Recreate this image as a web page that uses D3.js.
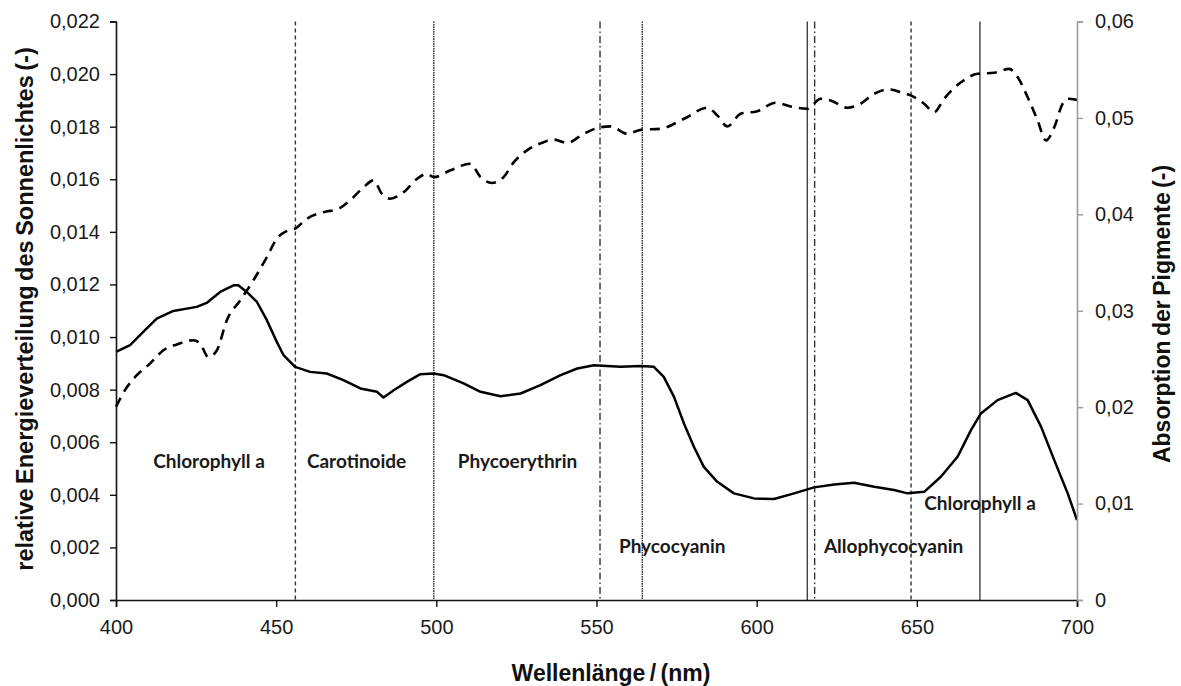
<!DOCTYPE html>
<html>
<head>
<meta charset="utf-8">
<script src="https://cdn.jsdelivr.net/npm/d3@7"></script>
<style>
  body { margin: 0; background: #fff; }
  svg { display: block; }
</style>
</head>
<body>
<svg id="chart" width="1181" height="686"></svg>
<script>
// Relative spectral energy of sunlight (left axis), wavelength in nm
const sunWl = [400, 402.8, 406.5, 410.6, 414.8, 419.0, 424.2, 426.3, 428.8, 431.5, 434.6, 438.8, 442.9, 447.1, 450.2, 453.3, 455.9, 459.6, 464.8, 469.5, 473.1, 477.3, 480.4, 483.0, 485.6, 489.8, 494.0, 497.1, 499.2, 504.4, 510.6, 513.8, 517.4, 521.0, 524.2, 528.3, 533.5, 536.7, 540.8, 546.0, 551.3, 554.4, 559.6, 563.8, 570.0, 577.3, 584.6, 587.7, 590.8, 595.0, 600.2, 605.9, 610.6, 615.8, 620.0, 623.1, 628.3, 631.5, 636.7, 641.3, 645.0, 648.1, 652.3, 655.4, 658.5, 663.8, 669.0, 674.2, 678.8, 681.5, 684.6, 687.7, 690.3, 692.9, 695.5, 697.1, 700];
const sunVal = [0.00735, 0.00798, 0.00855, 0.00899, 0.00950, 0.00972, 0.00988, 0.00975, 0.00924, 0.00950, 0.01064, 0.01140, 0.01216, 0.01304, 0.01374, 0.01403, 0.01412, 0.01450, 0.01475, 0.01488, 0.01520, 0.01570, 0.01596, 0.01545, 0.01526, 0.01551, 0.01602, 0.01621, 0.01608, 0.01634, 0.01659, 0.01608, 0.01586, 0.01608, 0.01665, 0.01710, 0.01741, 0.01751, 0.01738, 0.01773, 0.01798, 0.01801, 0.01773, 0.01788, 0.01792, 0.01830, 0.01872, 0.01843, 0.01801, 0.01849, 0.01859, 0.01891, 0.01877, 0.01868, 0.01906, 0.01900, 0.01872, 0.01881, 0.01925, 0.01942, 0.01931, 0.01919, 0.01887, 0.01855, 0.01906, 0.01969, 0.02001, 0.02005, 0.02020, 0.01988, 0.01912, 0.01824, 0.01748, 0.01798, 0.01887, 0.01906, 0.01902];

// Pigment absorption (right axis)
const absWl = [400, 404.4, 408.5, 412.7, 417.9, 425.2, 428.3, 432.5, 436.7, 438.2, 440.8, 444.0, 447.1, 450.2, 452.3, 455.9, 460.6, 465.8, 471.0, 476.3, 481.5, 483.5, 486.7, 490.8, 495.0, 499.2, 502.3, 508.5, 513.8, 520.0, 526.3, 532.5, 538.8, 544.0, 549.2, 557.5, 563.8, 567.9, 571.0, 574.2, 577.3, 580.4, 583.5, 587.7, 592.9, 599.2, 605.4, 611.7, 617.9, 624.2, 630.4, 636.7, 642.9, 647.1, 652.3, 657.5, 662.7, 666.9, 670.0, 675.2, 680.9, 684.6, 688.8, 692.9, 697.1, 700];
const absVal = [0.02573, 0.02643, 0.02780, 0.02919, 0.02998, 0.03040, 0.03081, 0.03195, 0.03264, 0.03264, 0.03195, 0.03091, 0.02902, 0.02677, 0.02539, 0.02418, 0.02366, 0.02349, 0.02280, 0.02194, 0.02159, 0.02100, 0.02176, 0.02262, 0.02342, 0.02349, 0.02332, 0.02246, 0.02159, 0.02114, 0.02142, 0.02228, 0.02332, 0.02401, 0.02435, 0.02418, 0.02428, 0.02418, 0.02314, 0.02107, 0.01831, 0.01589, 0.01381, 0.01226, 0.01106, 0.01054, 0.01047, 0.01106, 0.01168, 0.01199, 0.01216, 0.01174, 0.01140, 0.01106, 0.01122, 0.01278, 0.01485, 0.01762, 0.01935, 0.02073, 0.02148, 0.02073, 0.01796, 0.01451, 0.01106, 0.00829];

// Band boundaries (nm) and pigment names
const boundaryWl = [456.0, 499.2, 551.1, 564.3, 615.8, 618.1, 648.2, 669.7];
const pigmentNames = ["Chlorophyll a", "Carotinoide", "Phycoerythrin", "Phycocyanin", "Allophycocyanin", "Chlorophyll a"];

// Axis ticks
const xTicks = [400, 450, 500, 550, 600, 650, 700];
const leftTicks = [0, 0.002, 0.004, 0.006, 0.008, 0.010, 0.012, 0.014, 0.016, 0.018, 0.020, 0.022];
const rightTicks = [0, 0.01, 0.02, 0.03, 0.04, 0.05, 0.06];

const svg = d3.select("#chart");
const plotLeft = 116, plotRight = 1077, plotTop = 21.5, plotBottom = 600;

const x = d3.scaleLinear().domain([400, 700]).range([plotLeft, plotRight]);
const yL = d3.scaleLinear().domain([0, 0.022]).range([plotBottom, plotTop]);
const yR = d3.scaleLinear().domain([0, 0.06]).range([plotBottom, plotTop]);

const axisFont = "'Liberation Sans', Arial, sans-serif";
const comma = s => s.replace(".", ",");

// Vertical band boundaries
const boundaryDash = ["4,3", "1.6,0.8", "7,3,1.5,3", "1.6,0.8", null, "7,3,1.5,3", "4,3", null];
svg.append("g").selectAll("line")
  .data(boundaryWl)
  .join("line")
  .attr("x1", d => x(d)).attr("x2", d => x(d))
  .attr("y1", yL(0.022)).attr("y2", yL(0))
  .attr("stroke", "#333")
  .attr("stroke-width", (d, i) => boundaryDash[i] ? 1.4 : 1.3)
  .attr("stroke-dasharray", (d, i) => boundaryDash[i]);

// Sunlight curve (dashed)
const sunData = sunWl.map((w, i) => [w, sunVal[i]]);
svg.append("path")
  .datum(sunData)
  .attr("fill", "none")
  .attr("stroke", "#000")
  .attr("stroke-width", 2.6)
  .attr("stroke-dasharray", "10,7")
  .attr("d", d3.line().x(d => x(d[0])).y(d => yL(d[1])).curve(d3.curveMonotoneX));

// Absorption curve (solid)
const absData = absWl.map((w, i) => [w, absVal[i]]);
svg.append("path")
  .datum(absData)
  .attr("fill", "none")
  .attr("stroke", "#000")
  .attr("stroke-width", 2.5)
  .attr("stroke-linejoin", "round")
  .attr("d", d3.line().x(d => x(d[0])).y(d => yR(d[1])));

// Axes
const xAxis = svg.append("g")
  .attr("transform", `translate(0,${plotBottom})`)
  .call(d3.axisBottom(x).tickValues(xTicks).tickSize(7).tickPadding(13).tickFormat(d3.format("d")));
const leftAxis = svg.append("g")
  .attr("transform", `translate(${plotLeft},0)`)
  .call(d3.axisLeft(yL).tickValues(leftTicks).tickSize(6).tickPadding(10).tickFormat(d => comma(d3.format(".3f")(d))));
const rightAxis = svg.append("g")
  .attr("transform", `translate(${plotRight},0)`)
  .call(d3.axisRight(yR).tickValues(rightTicks).tickSize(6).tickPadding(12).tickFormat(d => d === 0 ? "0" : comma(d3.format(".2f")(d))));

[xAxis, leftAxis, rightAxis].forEach(g => {
  g.selectAll("text").attr("font-family", axisFont).attr("font-size", 20).attr("fill", "#1a1a1a");
});
xAxis.select(".domain").attr("stroke", "#111").attr("stroke-width", 1.6);
xAxis.selectAll(".tick line").attr("stroke", "#111").attr("stroke-width", 1.4);
leftAxis.select(".domain").attr("stroke", "#111").attr("stroke-width", 1.6);
leftAxis.selectAll(".tick line").attr("stroke", "#111").attr("stroke-width", 1.4);
rightAxis.select(".domain").attr("stroke", "#9a9a9a").attr("stroke-width", 1.6);
rightAxis.selectAll(".tick line").attr("stroke", "#9a9a9a").attr("stroke-width", 1.4);
xAxis.selectAll("text").attr("dy", "0.71em");

// Axis titles
const titleStyle = (sel, size) => sel
  .attr("font-family", axisFont).attr("font-weight", "bold").attr("font-size", size)
  .attr("word-spacing", "-2").attr("fill", "#111");
svg.append("text")
  .attr("transform", `translate(33,309) rotate(-90)`)
  .attr("text-anchor", "middle")
  .call(titleStyle, 23.5)
  .text("relative Energieverteilung des Sonnenlichtes (-)");
svg.append("text")
  .attr("transform", `translate(1170,314) rotate(-90)`)
  .attr("text-anchor", "middle")
  .call(titleStyle, 23)
  .text("Absorption der Pigmente (-)");
svg.append("text")
  .attr("x", 611).attr("y", 681)
  .attr("text-anchor", "middle")
  .call(titleStyle, 23)
  .text("Wellenlänge / (nm)");

// Pigment band labels, placed in data coordinates (nm, left-axis value)
const labelAt = [[411.6, 0.00502], [459.6, 0.00502], [506.7, 0.00502], [557.0, 0.00179], [621.0, 0.00179], [652.3, 0.00342]];
svg.append("g").selectAll("text")
  .data(pigmentNames)
  .join("text")
  .attr("x", (d, i) => x(labelAt[i][0]))
  .attr("y", (d, i) => yL(labelAt[i][1]))
  .attr("font-family", "Lato, 'Open Sans', sans-serif")
  .attr("font-weight", "bold")
  .attr("font-size", 19)
  .attr("fill", "#1a1a1a")
  .text(d => d);
</script>
</body>
</html>
